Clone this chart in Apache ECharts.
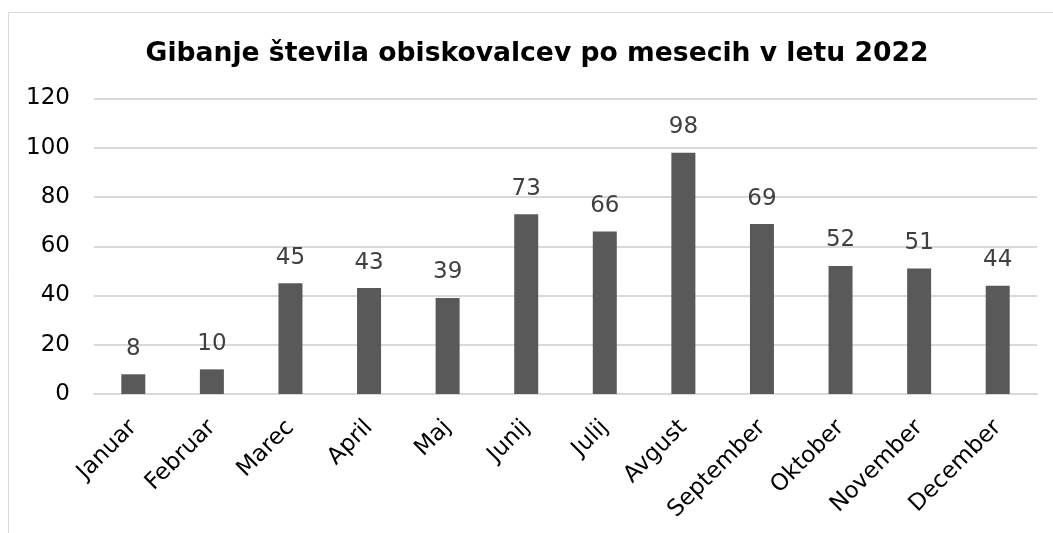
<!DOCTYPE html>
<html>
<head>
<meta charset="utf-8">
<script src="https://cdn.jsdelivr.net/npm/echarts@6/dist/echarts.min.js"></script>
<style>
html,body{margin:0;padding:0;background:#fff;}
#c{width:1053px;height:533px;}
</style>
</head>
<body>
<div id="c"></div>
<script>
const titleText = 'Gibanje števila obiskovalcev po mesecih v letu 2022';
const months = ['Januar','Februar','Marec','April','Maj','Junij','Julij','Avgust','September','Oktober','November','December'];
const visitors = [8,10,45,43,39,73,66,98,69,52,51,44];
const yTicks = {min:0, max:120, interval:20};

const chart = echarts.init(document.getElementById('c'), null, {renderer:'canvas'});
const FONT = '"DejaVu Sans", Verdana, sans-serif';
chart.setOption({
  animation:false,
  backgroundColor:'#fff',
  graphic:[{
    type:'rect', silent:true, z:-10,
    shape:{x:8.5, y:12.5, width:1200, height:700},
    style:{fill:'none', stroke:'#d9d9d9', lineWidth:1}
  }],
  title:{
    text:titleText,
    left:532, top:36, textAlign:'center',
    textStyle:{fontFamily:FONT, fontSize:26.6, fontWeight:'bold', color:'#000'}
  },
  grid:{left:94, right:16, top:98.5, bottom:139, containLabel:false},
  xAxis:{
    type:'category', data:months,
    axisLine:{show:true, lineStyle:{color:'#d9d9d9', width:2}},
    axisTick:{show:false},
    axisLabel:{rotate:45, interval:0, margin:30, fontFamily:FONT, fontSize:23, color:'#000'}
  },
  yAxis:{
    type:'value', min:yTicks.min, max:yTicks.max, interval:yTicks.interval,
    axisLine:{show:false}, axisTick:{show:false},
    splitLine:{lineStyle:{color:'#d9d9d9', width:2}},
    axisLabel:{margin:24, fontFamily:FONT, fontSize:23, color:'#000'}
  },
  series:[{
    type:'bar', data:visitors, barWidth:24,
    itemStyle:{color:'#595959'},
    label:{show:true, position:'top', distance:14, fontFamily:FONT, fontSize:23, color:'#404040'}
  }]
});
</script>
</body>
</html>
